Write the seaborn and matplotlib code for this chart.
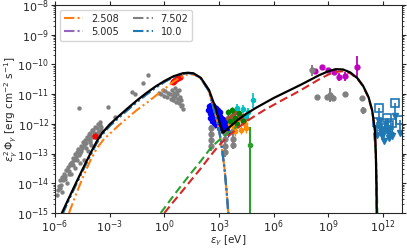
import numpy as np
import pandas as pd
import matplotlib
matplotlib.use("Agg")
import matplotlib.pyplot as plt
import seaborn as sns

sns.set_style("ticks")
plt.rcParams['font.family'] = ['DejaVu Sans']

# ---------------- model curves (log10 eV, log10 erg cm-2 s-1) ----------------
total_lx = [-5.62, -5.2, -4.8, -4.4, -4.0, -3.7, -3.4, -3.0, -2.5, -2.0, -1.5, -1.0, -0.5, 0.0, 0.5, 1.0,
            1.3, 1.6, 2.0, 2.45, 2.8, 3.1, 3.22, 3.5, 4.0, 4.5, 5.0, 5.5, 6.0, 6.5, 7.0, 7.5, 8.0, 8.5,
            9.0, 9.4, 9.8, 10.2, 10.6, 10.9, 11.2, 11.4, 11.55, 11.6, 11.63, 11.65]
total_ly = [-15.0, -14.45, -13.93, -13.42, -12.93, -12.58, -12.3, -12.02, -11.74, -11.47, -11.21, -10.97,
            -10.75, -10.56, -10.4, -10.3, -10.28, -10.3, -10.45, -10.86, -11.45, -12.1, -12.3, -12.15,
            -11.88, -11.66, -11.47, -11.3, -11.13, -10.98, -10.83, -10.68, -10.52, -10.36, -10.23,
            -10.16, -10.17, -10.27, -10.47, -10.72, -11.1, -11.55, -12.2, -13.0, -14.0, -15.2]

sync_lx = [-5.6, -5.2, -4.8, -4.4, -4.0, -3.7, -3.4, -3.0, -2.5, -2.0, -1.5, -1.0, -0.5, 0.0, 0.5, 1.0,
           1.3, 1.6, 2.0, 2.45, 2.9, 3.1, 3.3, 3.42, 3.52]
sync_ly = [-15.05, -14.5, -13.98, -13.47, -12.98, -12.63, -12.35, -12.07, -11.79, -11.52, -11.26, -11.02,
           -10.79, -10.59, -10.42, -10.31, -10.29, -10.31, -10.47, -10.9, -11.9, -12.55, -13.5, -14.3, -15.1]

orange_lx = [-5.23, -4.8, -4.4, -4.07, -3.7, -3.3, -3.07, -2.5, -2.02, -1.5, -0.92, -0.4, 0.08, 0.5, 0.8,
             1.2, 1.5, 1.8, 2.0, 2.45, 2.9, 3.1, 3.3, 3.42, 3.52]
orange_ly = [-15.0, -14.3, -13.7, -13.25, -12.82, -12.5, -12.38, -12.05, -11.8, -11.53, -11.27, -11.02,
             -10.79, -10.58, -10.46, -10.35, -10.33, -10.38, -10.48, -10.9, -11.9, -12.55, -13.5, -14.3, -15.1]

red_lx = [0.0, 0.5, 1.0, 1.5, 2.0, 2.56, 3.0, 3.5, 4.0, 4.5, 5.0, 5.5, 6.0, 6.5, 7.0, 7.5, 8.0, 8.5, 9.0,
          9.4, 9.8, 10.2, 10.6, 10.9, 11.2, 11.4, 11.55, 11.6, 11.63, 11.66]
red_ly = [-15.0, -14.62, -14.25, -13.87, -13.5, -13.05, -12.72, -12.42, -12.15, -11.92, -11.72, -11.53,
          -11.36, -11.19, -11.03, -10.86, -10.68, -10.5, -10.34, -10.25, -10.23, -10.3, -10.49, -10.74,
          -11.12, -11.57, -12.22, -13.0, -14.0, -15.2]

green_lx = [-0.2, 0.5, 1.0, 1.5, 2.0, 2.56, 3.0, 3.5, 4.0]
green_ly = [-15.0, -14.42, -14.02, -13.63, -13.25, -12.8, -12.55, -12.3, -12.08]
green_cut_lx = [11.5, 11.6, 11.65, 11.69]
green_cut_ly = [-12.3, -13.0, -14.0, -15.2]

# ---------------- data ----------------
radio_lx = [-5.83, -5.78, -5.72, -5.68, -5.62, -5.55, -5.5, -5.45, -5.4, -5.34, -5.3, -5.25, -5.2, -5.15,
            -5.1, -5.06, -5.0, -4.95, -4.9, -4.85, -4.8, -4.75, -4.7, -4.62, -4.58, -4.5, -4.45, -4.4,
            -4.34, -4.3, -4.25, -4.2, -4.15, -4.1, -4.05, -4.0, -3.95, -3.9, -3.85, -3.8, -3.7, -3.65,
            -3.6, -3.55, -3.51, -3.45, -5.6, -5.35, -5.1, -4.9, -4.65, -4.4, -4.2, -4.0, -3.75, -3.6,
            -5.9, -5.75, -5.45, -5.25, -5.0, -4.78, -4.55, -4.3, -4.1, -3.9, -3.7, -3.5]
radio_ly = [-14.23, -14.1, -13.89, -14.05, -13.8, -13.9, -13.7, -13.75, -13.55, -13.56, -13.45, -13.6,
            -13.35, -13.4, -13.3, -13.29, -13.15, -13.2, -13.0, -13.1, -12.95, -12.85, -13.05, -12.98,
            -12.75, -12.8, -12.6, -12.7, -12.55, -12.65, -12.45, -12.5, -12.35, -12.55, -12.3, -12.4,
            -12.2, -12.21, -12.3, -12.1, -12.15, -12.0, -12.25, -11.95, -12.04, -12.1, -14.3, -14.0,
            -13.7, -13.5, -13.3, -13.2, -12.9, -12.7, -12.45, -12.35,
            -14.4, -14.15, -13.85, -13.7, -13.4, -13.2, -12.9, -12.8, -12.6, -12.45, -12.3, -12.2]
opt_lx = [-4.67, -3.07, -2.69, -1.75, -1.6, -1.19, -0.92, -0.3, -0.2, -0.1, 0.0, 0.05, 0.15, 0.2, 0.3,
          0.35, 0.4, 0.45, 0.5, 0.55, 0.6, 0.65, 0.7, 0.75, 0.8, 0.85, 0.9, 0.95, 1.0, 0.6, 0.7, 0.8, 0.9]
opt_ly = [-11.47, -11.43, -11.77, -10.93, -11.0, -10.63, -10.36, -10.95, -11.0, -10.85, -11.05, -10.9,
          -11.1, -10.95, -11.0, -11.15, -10.85, -11.05, -11.2, -10.95, -11.1, -11.25, -11.0, -11.15,
          -11.3, -11.1, -11.2, -11.35, -11.5, -10.8, -10.9, -10.85, -11.4]
red_pts_lx = [-3.79, 0.45, 0.55, 0.65, 0.75, 0.85]
red_pts_ly = [-12.41, -10.6, -10.55, -10.5, -10.47, -10.44]

xray_lx = [2.42, 2.45, 2.5, 2.52, 2.55, 2.58, 2.6, 2.62, 2.65, 2.68, 2.7, 2.72, 2.75, 2.78, 2.8, 2.82,
           2.85, 2.88, 2.9, 2.92, 2.95, 2.98, 3.0, 3.02, 3.05, 3.08, 3.1, 3.12, 3.15, 3.18, 3.2, 3.22,
           3.25, 3.28, 3.3, 3.33, 3.36, 3.4, 3.43, 3.46, 3.5, 2.5, 2.6, 2.7, 2.8, 2.9, 3.0, 3.1, 3.2,
           3.3, 2.55, 2.65, 2.75, 2.85, 2.95, 3.05]
xray_ly = [-11.55, -11.4, -11.65, -11.45, -11.7, -11.5, -11.4, -11.75, -11.6, -11.45, -11.8, -11.62,
           -11.5, -11.75, -11.85, -11.55, -11.72, -11.9, -11.6, -11.8, -11.95, -11.68, -11.85, -12.0,
           -11.75, -11.9, -12.05, -11.8, -11.98, -12.1, -11.85, -12.02, -12.15, -11.9, -12.08, -12.2,
           -11.95, -12.12, -12.22, -12.05, -12.28, -11.8, -11.9, -11.95, -12.0, -12.05, -12.1, -12.15,
           -12.2, -12.22, -11.35, -11.38, -11.42, -11.48, -11.55, -11.6]
xgray_lx = [2.55, 2.55, 2.55, 2.55, 3.3, 3.3, 3.3, 3.3, 3.75, 3.75, 3.75]
xgray_ly = [-12.15, -12.35, -12.55, -12.75, -12.3, -12.5, -12.75, -12.95, -12.25, -12.5, -12.7]

green_d_lx = [3.5, 3.6, 3.7, 3.9, 4.0, 4.1, 4.3]
green_d_ly = [-11.6, -11.9, -11.55, -11.8, -12.0, -11.65, -11.9]
orange_d_lx = [3.6, 3.8, 3.9, 4.0, 4.2, 4.4, 4.5]
orange_d_ly = [-12.0, -12.1, -12.25, -11.95, -12.2, -12.0, -12.15]
brown_d_lx = [3.5, 3.7, 3.8, 3.9, 4.0, 4.1, 4.2, 4.3, 4.5]
brown_d_ly = [-11.8, -11.75, -11.9, -11.6, -11.85, -11.7, -11.8, -11.75, -11.8]
cyan_d_lx = [4.0, 4.3, 4.5, 4.6, 4.88]
cyan_d_ly = [-11.45, -11.5, -11.75, -11.6, -11.2]
cyan_d_err = [0.12, 0.15, 0.1, 0.15, 0.25]

hard_lx = [4.68]
hard_ly = [-12.71]
hard_up = [0.6]
hard_dn = [3.5]

fermi_lx = [8.25, 8.64, 8.97, 9.3, 9.58, 9.9, 10.57]
fermi_ly = [-10.22, -10.09, -10.2, -10.25, -10.42, -10.4, -10.08]
fermi_err = [0.05, 0.05, 0.06, 0.08, 0.13, 0.16, 0.35]

gev_gray_lx = [8.09, 8.36, 8.92, 9.08, 9.25, 9.9, 10.85, 10.9]
gev_gray_ly = [-10.2, -11.09, -11.09, -11.03, -11.13, -11.0, -11.13, -11.54]
gev_gray_err = [0.18, 0.04, 0.06, 0.25, 0.1, 0.04, 0.06, 0.12]

tev_ul_lx = [11.68, 11.79, 11.96, 12.07, 12.23, 12.34, 12.5, 12.67, 12.9]
tev_ul_ly = [-11.94, -11.47, -11.97, -12.14, -11.8, -12.04, -11.97, -11.3, -11.87]
tev_pt_lx = [11.75, 11.9, 12.05, 12.2, 12.35, 12.5]
tev_pt_ly = [-12.1, -12.2, -12.15, -12.25, -12.1, -12.3]

legend_labels = ["2.508", "5.005", "7.502", "10.0"]

P = lambda a: np.power(10.0, np.asarray(a, dtype=float))

fig = plt.figure(figsize=(4.07, 2.48), dpi=100)
ax = fig.add_axes([0.135, 0.141, 0.853, 0.839])
ax.set_xscale("log")
ax.set_yscale("log")

ddot = (0, (5, 1.5, 1, 1.5, 1, 1.5))

# data first (underneath)
sns.scatterplot(x=P(radio_lx), y=P(radio_ly), color="gray", s=10, linewidth=0, ax=ax, zorder=2)
sns.scatterplot(x=P(opt_lx), y=P(opt_ly), color="gray", s=10, linewidth=0, ax=ax, zorder=2)
sns.scatterplot(x=P(red_pts_lx), y=P(red_pts_ly), color="red", s=20, linewidth=0, ax=ax, zorder=3)

ax.errorbar(P(xray_lx), P(xray_ly), yerr=P(xray_ly) * 0.3, xerr=P(xray_lx) * 0.08, fmt="o", ms=3,
            color="blue", elinewidth=0.8, zorder=2)
ax.errorbar(P(xgray_lx), P(xgray_ly), yerr=P(xgray_ly) * 0.3, fmt="o", ms=3.5, color="gray",
            elinewidth=1.5, zorder=2)
ax.errorbar(P(brown_d_lx), P(brown_d_ly), yerr=P(brown_d_ly) * 0.3, xerr=P(brown_d_lx) * 0.15,
            fmt="o", ms=3, color="#a0522d", elinewidth=1, zorder=2)
ax.errorbar(P(orange_d_lx), P(orange_d_ly), yerr=P(orange_d_ly) * 0.3, xerr=P(orange_d_lx) * 0.15,
            fmt="o", ms=3, color="darkorange", elinewidth=1, zorder=2)
ax.errorbar(P(green_d_lx), P(green_d_ly), yerr=P(green_d_ly) * 0.3, fmt="o", ms=3, color="green",
            elinewidth=1, zorder=2)
cy = P(cyan_d_ly)
ce = np.array(cyan_d_err)
ax.errorbar(P(cyan_d_lx), cy, yerr=[cy - cy * 10 ** -ce, cy * 10 ** ce - cy],
            fmt="o", ms=3, color="c", elinewidth=1.2, zorder=2)
hy = P(hard_ly)
ax.errorbar(P(hard_lx), hy, yerr=[hy - hy * 10 ** -np.array(hard_dn), hy * 10 ** np.array(hard_up) - hy],
            fmt="o", ms=3, color="#2ca02c", elinewidth=1.5, zorder=2)

fy = P(fermi_ly)
fe = np.array(fermi_err)
ax.errorbar(P(fermi_lx), fy, yerr=[fy - fy * 10 ** -fe, fy * 10 ** fe - fy], fmt="o", ms=3.5,
            color="m", elinewidth=1.3, zorder=2)
gy = P(gev_gray_ly)
ge = np.array(gev_gray_err)
ax.errorbar(P(gev_gray_lx), gy, yerr=[gy - gy * 10 ** -ge, gy * 10 ** ge - gy], fmt="o", ms=3.5,
            color="gray", elinewidth=1.5, zorder=2)

# TeV upper limits: open squares with down arrows
ty = P(tev_ul_ly)
tx = P(tev_ul_lx)
ax.vlines(tx, ty * 10 ** -0.45, ty, color="#1f77b4", lw=1.2, zorder=2)
ax.plot(tx, ty * 10 ** -0.45, "v", color="#1f77b4", ms=4, zorder=2)
ax.plot(tx, ty, "s", mfc="none", mec="#1f77b4", ms=6, mew=1.2, zorder=2)
tpy = P(tev_pt_ly)
ax.errorbar(P(tev_pt_lx), tpy, yerr=tpy * 0.4, xerr=P(tev_pt_lx) * 0.5, fmt="o", ms=2,
            color="#1f77b4", elinewidth=0.8, zorder=2)

# model curves
comp_colors = ["tab:orange", "tab:purple", "tab:gray", "tab:blue"]
comp_x = [orange_lx, sync_lx, sync_lx, sync_lx]
comp_y = [orange_ly, sync_ly, sync_ly, sync_ly]
for lab, c, lx, ly in zip(legend_labels, comp_colors, comp_x, comp_y):
    sns.lineplot(x=P(lx), y=P(ly), color=c, lw=1.5, ls=ddot, sort=False, ax=ax, label=lab, zorder=4)

sns.lineplot(x=P(green_lx), y=P(green_ly), color="tab:green", lw=1.5, ls=(0, (4, 2)), sort=False, ax=ax, zorder=4)
sns.lineplot(x=P(green_cut_lx), y=P(green_cut_ly), color="tab:green", lw=1.5, ls=(0, (4, 2)), sort=False, ax=ax, zorder=4)
sns.lineplot(x=P(red_lx), y=P(red_ly), color="tab:red", lw=1.5, ls=(0, (4, 2)), sort=False, ax=ax, zorder=4)
sns.lineplot(x=P(total_lx), y=P(total_ly), color="black", lw=1.6, sort=False, ax=ax, zorder=5)

ax.set_xlim(1e-6, 1.1e13)
ax.set_ylim(1e-15, 1e-8)
ax.set_xlabel(r"$\varepsilon_\gamma$ [eV]", fontsize=7.5, labelpad=0)
ax.set_ylabel(r"$\varepsilon_\gamma^2\,\Phi_\gamma$ [erg cm$^{-2}$ s$^{-1}$]", fontsize=7.5, labelpad=0)
ax.xaxis.set_major_locator(matplotlib.ticker.LogLocator(base=1000.0, numticks=20))
ax.xaxis.set_minor_locator(matplotlib.ticker.NullLocator())
ax.yaxis.set_major_locator(matplotlib.ticker.LogLocator(base=10.0, numticks=20))
ax.tick_params(labelsize=8, length=3, pad=1)
ax.tick_params(which="minor", length=1.5)
ax.tick_params(which="both", top=True, right=True)
ax.yaxis.set_label_coords(-0.1, 0.5)
ax.xaxis.set_label_coords(0.5, -0.1)

leg = ax.legend(loc="upper left", ncol=2, fontsize=7, handlelength=2.0, columnspacing=1.5,
                borderpad=0.4, labelspacing=0.3, handletextpad=0.8)
fig.savefig("out.png", dpi=100)
